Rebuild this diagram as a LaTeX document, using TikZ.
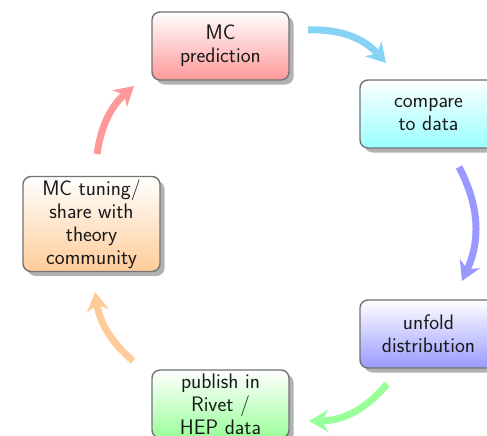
\documentclass[tikz,border=0pt]{standalone}
\usepackage{fontspec}
\usetikzlibrary{arrows.meta,shadows,shapes.misc}
\definecolor{txt}{RGB}{25,25,25}
\definecolor{arcyan}{RGB}{135,211,245}
\tikzset{
  module/.style={rectangle, rounded corners=8pt, draw=black!55, line width=1.4pt,
    minimum width=137pt, minimum height=68pt, inner xsep=4pt, inner ysep=3pt,
    align=center, text=txt, font=\sffamily\fontsize{21}{23}\selectfont,
    top color=white, bottom color=#1!40,
    drop shadow={shadow xshift=4.5pt, shadow yshift=-4.5pt, fill=black!30, opacity=1}},
  flow/.style={draw=#1, line width=7pt,
    -{Stealth[length=19pt,width=22pt,inset=6pt]}}
}
\begin{document}
\begin{tikzpicture}[x=1pt,y=-1pt]
\useasboundingbox (0,0) rectangle (487,436);
\clip (0,0) rectangle (487,436);
\node[module=red]    (pred)    at (220.5,46)  {MC\\prediction};
\node[module=cyan]   (compare) at (428.5,114) {compare\\to data};
\node[module=blue]   (unfold)  at (428.5,334) {unfold\\distribution};
\node[module=green]  (publish) at (220.5,404) {publish in\\Rivet /\\HEP data};
\node[module=orange] (tuning)  at (91.5,224)  {MC tuning/\\share with\\theory\\community};
\coordinate (a1s) at (308,30);  \coordinate (a1e) at (386,63);
\coordinate (a2s) at (459,167); \coordinate (a2e) at (462,281);
\coordinate (a3s) at (387,384); \coordinate (a3e) at (309,421);
\coordinate (a4s) at (133,361); \coordinate (a4e) at (95,292);
\coordinate (a5s) at (97,154);  \coordinate (a5e) at (134,86);
\draw[flow=arcyan]   (a1s) to[bend left=25] (a1e);
\draw[flow=blue!40]  (a2s) to[bend left=26] (a2e);
\draw[flow=green!40] (a3s) to[bend left=25] (a3e);
\draw[flow=orange!40](a4s) to[bend left=20] (a4e);
\draw[flow=red!40]   (a5s) to[bend left=20] (a5e);
\end{tikzpicture}
\end{document}
